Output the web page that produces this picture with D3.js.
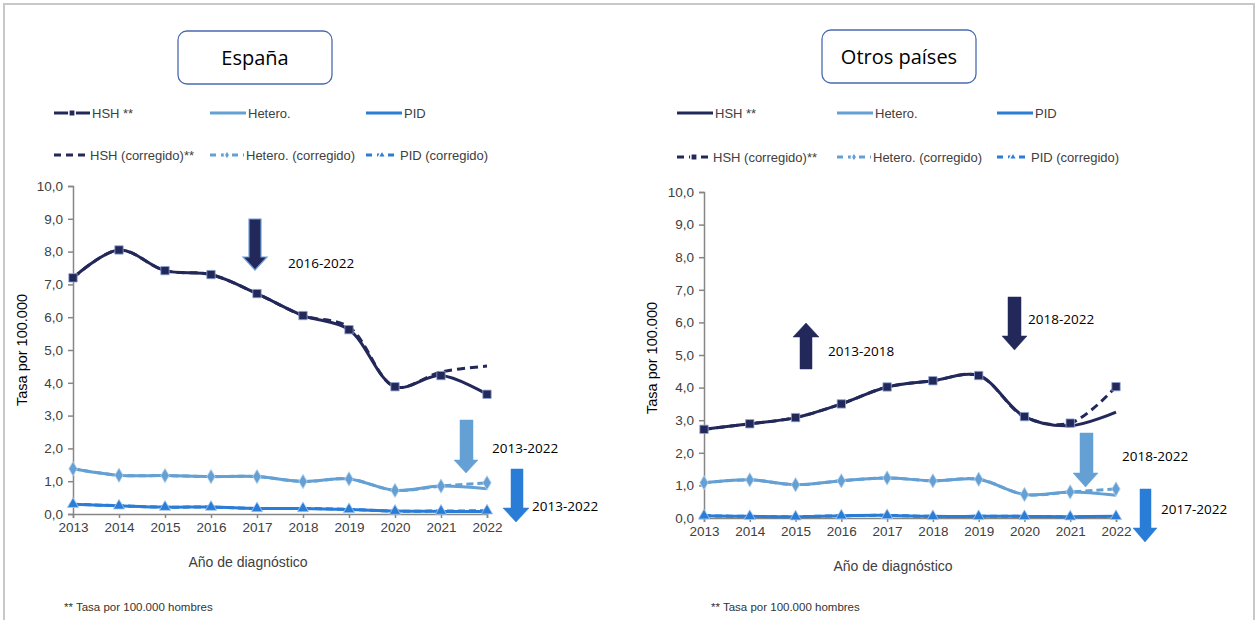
<!DOCTYPE html>
<html><head><meta charset="utf-8">
<script src="https://cdn.jsdelivr.net/npm/d3@7"></script>
<style>body{margin:0;background:#fff}svg{display:block}</style>
</head><body>
<svg id="c" width="1258" height="620"></svg>
<script>
const years = [2013,2014,2015,2016,2017,2018,2019,2020,2021,2022];
const yTicks = [0,1,2,3,4,5,6,7,8,9,10];
// España
const esHSH        = [7.2,8.05,7.42,7.3,6.72,6.05,5.62,3.88,4.22,3.65];
const esHSHcorr    = [7.2,8.05,7.42,7.3,6.72,6.05,5.7,3.88,4.33,4.51];
const esHetero     = [1.38,1.18,1.17,1.14,1.14,0.99,1.07,0.72,0.85,0.77];
const esHeteroCorr = [1.38,1.18,1.17,1.14,1.14,0.99,1.07,0.72,0.85,0.95];
const esPID        = [0.3,0.25,0.21,0.21,0.17,0.17,0.14,0.09,0.08,0.08];
const esPIDcorr    = [0.3,0.25,0.21,0.21,0.17,0.17,0.14,0.09,0.09,0.1];
// Otros países
const otHSH        = [2.72,2.89,3.08,3.5,4.02,4.21,4.37,3.11,2.83,3.25];
const otHSHcorr    = [2.72,2.89,3.08,3.5,4.02,4.21,4.37,3.11,2.91,4.03];
const otHetero     = [1.08,1.17,1.02,1.14,1.23,1.14,1.19,0.72,0.8,0.7];
const otHeteroCorr = [1.08,1.17,1.02,1.14,1.23,1.14,1.19,0.72,0.8,0.89];
const otPID        = [0.07,0.05,0.04,0.07,0.08,0.05,0.05,0.05,0.04,0.05];
const otPIDcorr    = [0.07,0.05,0.04,0.07,0.08,0.05,0.05,0.05,0.04,0.05];

const legendLabels = ["HSH **","Hetero.","PID","HSH (corregido)**","Hetero. (corregido)","PID (corregido)"];
const footnote = "** Tasa por 100.000 hombres";
const xTitle = "Año de diagnóstico";
const yTitle = "Tasa por 100.000";

const C_HSH = "#23285a", C_HET = "#64a0d4", C_PID = "#2a7dd6";
const svg = d3.select("#c");
const AX = "#868686", TXT = "#404040";
const F = "'Liberation Sans', Arial, sans-serif";
const F2 = "'Open Sans', sans-serif";

// outer frame
svg.append("rect").attr("x",4).attr("y",4).attr("width",1250).attr("height",640)
  .attr("fill","none").attr("stroke","#c8c8c8").attr("stroke-width",2);

function arrow(g, x0, x1, top, headY, hx0, hx1, tip, color, outline) {
  const cx = (hx0+hx1)/2;
  const pts = [[x0,top],[x1,top],[x1,headY],[hx1,headY],[cx,tip],[hx0,headY],[x0,headY]];
  g.append("path").attr("d","M"+pts.map(p=>p.join(",")).join("L")+"Z")
    .attr("fill",color).attr("stroke",outline||color).attr("stroke-width",outline?1.2:0.5);
}

function panel(o) {
  const g = svg.append("g");
  const x = d3.scaleLinear().domain([2013,2022]).range([o.x0,o.x1]);
  const y = d3.scaleLinear().domain([0,10]).range([o.yb,o.yt]);
  // title box
  g.append("rect").attr("x",o.box[0]).attr("y",o.box[1]).attr("width",o.box[2]).attr("height",o.box[3])
    .attr("rx",9).attr("fill","#fff").attr("stroke","#4a6ab0").attr("stroke-width",1.3);
  g.append("text").attr("x",o.box[0]+o.box[2]/2).attr("y",o.box[1]+o.box[3]/2+7).attr("text-anchor","middle")
    .attr("font-family",F2).attr("font-size",20).attr("fill","#000").text(o.title);
  // axes
  const ya = g.append("g").attr("transform",`translate(${o.x0},0)`)
    .call(d3.axisLeft(y).tickValues(yTicks).tickSize(5).tickPadding(5).tickFormat(d=>d.toFixed(1).replace(".",",")));
  const xa = g.append("g").attr("transform",`translate(0,${o.yb})`)
    .call(d3.axisBottom(x).tickValues(years).tickSize(4).tickPadding(4).tickFormat(d3.format("d")));
  [ya,xa].forEach(a=>{
    a.selectAll("path,line").attr("stroke",AX).attr("stroke-width",1.5);
    a.selectAll("text").attr("font-family",F).attr("font-size",13.5).attr("fill",TXT);
  });
  g.append("text").attr("x",o.xtc).attr("y",o.yb+53).attr("text-anchor","middle")
    .attr("font-family",F).attr("font-size",14).attr("fill",TXT).text(xTitle);
  g.append("text").attr("transform",`translate(${o.yx},${o.ymid}) rotate(-90)`).attr("text-anchor","middle")
    .attr("font-family",F).attr("font-size",14.5).attr("fill","#000").text(yTitle);
  g.append("text").attr("x",o.foot[0]).attr("y",o.foot[1])
    .attr("font-family",F).attr("font-size",11.5).attr("fill","#333").text(footnote);

  const line = d3.line().x((d,i)=>x(years[i])).y(d=>y(d)).curve(d3.curveCatmullRom.alpha(0.5));
  const sym = (type,size,color,stroke) => (sel,data) => {
    sel.selectAll(null).data(data).enter().append("path")
      .attr("transform",(d,i)=>`translate(${x(years[i])},${y(d)})`)
      .attr("d",d3.symbol().type(type).size(size)).attr("fill",color)
      .attr("stroke",stroke||"#fff").attr("stroke-width",0.8);
  };
  const series = [
    {d:o.pid, c:C_PID, dash:null, m:o.mk.pid},
    {d:o.pidc, c:C_PID, dash:"7,4", m:o.mk.pidc},
    {d:o.het, c:C_HET, dash:null, m:o.mk.het},
    {d:o.hetc, c:C_HET, dash:"7,4", m:o.mk.hetc},
    {d:o.hsh, c:C_HSH, dash:null, m:o.mk.hsh},
    {d:o.hshc, c:C_HSH, dash:"8,5", m:o.mk.hshc},
  ];
  series.forEach(s=>{
    g.append("path").attr("d",line(s.d)).attr("fill","none").attr("stroke",s.c)
      .attr("stroke-width",3).attr("stroke-dasharray",s.dash).attr("stroke-linecap","butt");
  });
  series.forEach(s=>{
    if (s.m==="sq") sym(d3.symbolSquare,70,C_HSH,"#8fa6d6")(g,s.d);
    if (s.m==="di") sym(d3.symbolDiamond,60,C_HET,"#b9d3ee")(g,s.d);
    if (s.m==="tr") sym(d3.symbolTriangle,55,C_PID,"#a9c9ef")(g,s.d);
  });

  // legend
  const lg = g.append("g");
  const L = o.leg;
  const items = [
    {c:C_HSH,dash:null,m:o.mk.hsh,t:legendLabels[0],x:L[0],y:L[3],w:36},
    {c:C_HET,dash:null,m:null,t:legendLabels[1],x:L[1],y:L[3],w:36},
    {c:C_PID,dash:null,m:null,t:legendLabels[2],x:L[2],y:L[3],w:36},
    {c:C_HSH,dash:"7,5",m:o.mk.hshc,t:legendLabels[3],x:L[0],y:L[4],w:34},
    {c:C_HET,dash:"6,5",m:"di",t:legendLabels[4],x:L[1],y:L[4],w:34},
    {c:C_PID,dash:"6,5",m:"tr",t:legendLabels[5],x:L[2],y:L[4],w:32},
  ];
  items.forEach(it=>{
    lg.append("line").attr("x1",it.x).attr("x2",it.x+it.w).attr("y1",it.y).attr("y2",it.y)
      .attr("stroke",it.c).attr("stroke-width",3).attr("stroke-dasharray",it.dash);
    if (it.m) {
      const t = it.m==="sq"?d3.symbolSquare:it.m==="di"?d3.symbolDiamond:d3.symbolTriangle;
      const sz = it.m==="sq"?40:25;
      lg.append("path").attr("transform",`translate(${it.x+it.w/2},${it.y})`)
        .attr("d",d3.symbol().type(t).size(sz)).attr("fill",it.c).attr("stroke","#fff").attr("stroke-width",1.5);
    }
    lg.append("text").attr("x",it.x+it.w+2).attr("y",it.y+4.5)
      .attr("font-family",F).attr("font-size",13).attr("fill",TXT).text(it.t);
  });

  // annotation arrows
  o.arrows.forEach(a=>{
    arrow(g,a.s[0],a.s[1],a.top,a.hy,a.h[0],a.h[1],a.tip,a.c,a.ol);
    g.append("text").attr("x",a.tx).attr("y",a.ty+5).attr("font-family",F2).attr("font-size",13.5)
      .attr("fill","#000").text(a.t);
  });
}

panel({
  x0:73, x1:487, yb:514, yt:186, yx:27, ymid:350, xtc:248, title:"España", box:[178,31,154,53],
  foot:[64,611], leg:[54,210,366,113,155],
  hsh:esHSH, hshc:esHSHcorr, het:esHetero, hetc:esHeteroCorr, pid:esPID, pidc:esPIDcorr,
  mk:{hsh:"sq",hshc:null,het:null,hetc:"di",pid:null,pidc:"tr"},
  arrows:[
    {s:[249,261],top:219,hy:257,h:[243,267],tip:270,c:C_HSH,ol:"#6f9fd8",t:"2016-2022",tx:288,ty:263},
    {s:[460,473],top:420,hy:460,h:[454,478],tip:473,c:C_HET,t:"2013-2022",tx:492,ty:448},
    {s:[511,523],top:469,hy:508,h:[503,529],tip:522,c:C_PID,t:"2013-2022",tx:532,ty:506},
  ]
});
panel({
  x0:704, x1:1116, yb:518, yt:192, yx:657, ymid:358, xtc:893, title:"Otros países", box:[822,30,154,53],
  foot:[711,611], leg:[677,837,997,113,157],
  hsh:otHSH, hshc:otHSHcorr, het:otHetero, hetc:otHeteroCorr, pid:otPID, pidc:otPIDcorr,
  mk:{hsh:null,hshc:"sq",het:null,hetc:"di",pid:null,pidc:"tr"},
  arrows:[
    {s:[800,812],top:369,hy:337,h:[793,819],tip:323,c:C_HSH,t:"2013-2018",tx:828,ty:351},
    {s:[1008,1021],top:297,hy:336,h:[1002,1027],tip:350,c:C_HSH,t:"2018-2022",tx:1028,ty:319},
    {s:[1080,1093],top:433,hy:473,h:[1073,1098],tip:487,c:C_HET,t:"2018-2022",tx:1122,ty:456},
    {s:[1140,1151],top:489,hy:528,h:[1133,1157],tip:542,c:C_PID,t:"2017-2022",tx:1161,ty:509},
  ]
});
</script>
</body></html>
